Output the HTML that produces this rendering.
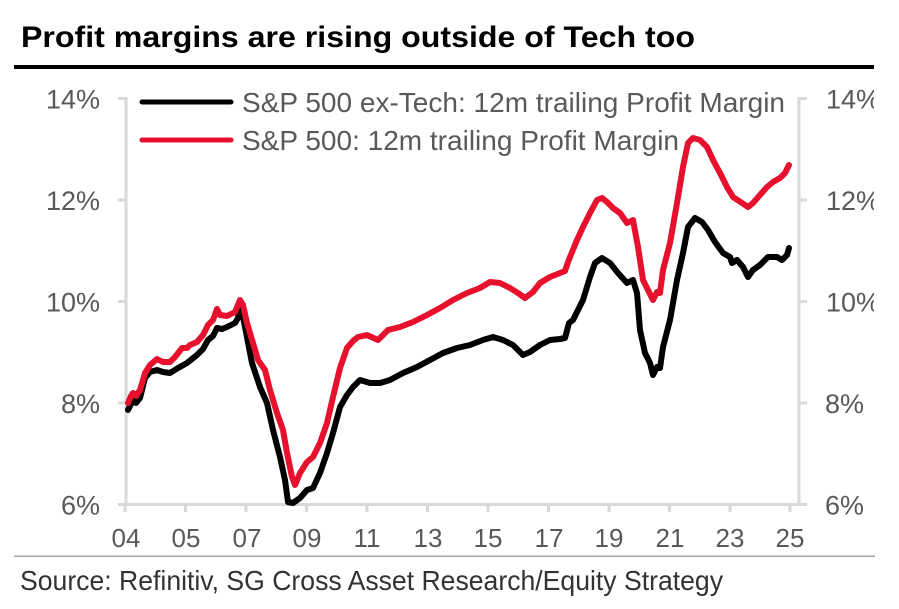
<!DOCTYPE html>
<html>
<head>
<meta charset="utf-8">
<style>
html,body{margin:0;padding:0;background:#fff;}
svg{display:block;}
</style>
</head>
<body>
<svg width="899" height="609" viewBox="0 0 899 609" xmlns="http://www.w3.org/2000/svg">
<rect width="899" height="609" fill="#fff"/>
<!-- Title -->
<text x="21" y="47" font-family="Liberation Sans, Arial, sans-serif" font-weight="bold" font-size="30" fill="#000" textLength="674" lengthAdjust="spacingAndGlyphs">Profit margins are rising outside of Tech too</text>
<rect x="14" y="65" width="861" height="4" fill="#000"/>

<!-- Axes -->
<g stroke="#d9d9d9" stroke-width="3" fill="none">
<line x1="126" y1="97" x2="126" y2="505"/>
<line x1="799" y1="97" x2="799" y2="505"/>
<line x1="118" y1="504.5" x2="807" y2="504.5"/>
<line x1="118" y1="98.5" x2="126" y2="98.5"/>
<line x1="118" y1="200" x2="126" y2="200"/>
<line x1="118" y1="301.5" x2="126" y2="301.5"/>
<line x1="118" y1="403" x2="126" y2="403"/>
<line x1="799" y1="98.5" x2="807" y2="98.5"/>
<line x1="799" y1="200" x2="807" y2="200"/>
<line x1="799" y1="301.5" x2="807" y2="301.5"/>
<line x1="799" y1="403" x2="807" y2="403"/>
<line x1="125" y1="504" x2="125" y2="512"/>
<line x1="185.5" y1="504" x2="185.5" y2="512"/>
<line x1="246" y1="504" x2="246" y2="512"/>
<line x1="306.5" y1="504" x2="306.5" y2="512"/>
<line x1="367" y1="504" x2="367" y2="512"/>
<line x1="427.5" y1="504" x2="427.5" y2="512"/>
<line x1="488" y1="504" x2="488" y2="512"/>
<line x1="548.5" y1="504" x2="548.5" y2="512"/>
<line x1="609" y1="504" x2="609" y2="512"/>
<line x1="669.5" y1="504" x2="669.5" y2="512"/>
<line x1="730" y1="504" x2="730" y2="512"/>
<line x1="790" y1="504" x2="790" y2="512"/>
</g>

<!-- Y labels -->
<g font-family="Liberation Sans, Arial, sans-serif" font-size="27" fill="#595959">
<g text-anchor="end">
<text x="100" y="108.5">14%</text>
<text x="100" y="210">12%</text>
<text x="100" y="311.5">10%</text>
<text x="100" y="413">8%</text>
<text x="100" y="514.5">6%</text>
</g>
<g text-anchor="start">
<text x="826" y="108.5">14%</text>
<text x="826" y="210">12%</text>
<text x="826" y="311.5">10%</text>
<text x="825" y="413">8%</text>
<text x="825" y="514.5">6%</text>
</g>
</g>

<!-- X labels -->
<g font-family="Liberation Sans, Arial, sans-serif" font-size="26" fill="#595959" text-anchor="middle">
<text x="126" y="547">04</text>
<text x="186" y="547">05</text>
<text x="247" y="547">07</text>
<text x="307" y="547">09</text>
<text x="367" y="547">11</text>
<text x="428" y="547">13</text>
<text x="488" y="547">15</text>
<text x="549" y="547">17</text>
<text x="609" y="547">19</text>
<text x="670" y="547">21</text>
<text x="730" y="547">23</text>
<text x="790" y="547">25</text>
</g>

<!-- Series -->
<g fill="none" stroke-width="6" stroke-linejoin="round" stroke-linecap="round">
<polyline stroke="#000" points="128,410 131,404 133,400 136,403 140,398 143,386 145,378 150,372 157,370 163,372 170,373 178,368 187,363 197,355 203,349 208,340 213,336 217,328 222,329 227,327 235,323 238,318 240,305 242,312 245,327 252,363 260,387 267,403 273,430 280,457 285,480 288,502 293,503 300,498 307,490 313,488 320,473 327,453 333,433 340,407 347,395 353,387 360,380 370,383 380,383 390,380 403,373 417,367 430,360 443,353 457,348 470,345 483,340 493,337 503,340 513,345 523,355 530,352 540,345 550,340 560,339 565,338 569,323 573,320 583,300 590,277 595,263 602,258 610,263 618,273 627,283 633,280 637,293 640,330 645,353 650,363 653,375 657,367 660,368 663,347 670,320 677,280 683,253 688,227 695,218 702,222 708,230 715,242 723,253 730,257 732,263 737,260 743,267 748,277 753,270 760,265 768,257 777,257 782,260 787,255 789,248"/>
<polyline stroke="#e8112d" points="128,403 131,396 133,393 136,396 140,390 145,373 150,365 157,359 163,362 170,362 175,357 182,348 187,348 190,345 197,342 203,335 208,325 213,320 217,309 220,315 227,316 235,312 240,300 243,305 247,323 253,343 258,360 265,370 270,390 277,413 283,430 287,453 292,477 295,485 300,473 307,462 313,457 320,443 327,423 333,397 340,368 347,348 353,341 358,337 367,335 378,340 388,330 400,327 413,322 427,315 440,308 453,300 467,293 480,288 490,282 500,283 510,288 518,293 525,298 533,292 540,283 550,277 560,273 565,271 568,262 570,257 577,240 583,227 590,213 597,200 602,198 607,202 613,208 620,213 627,223 633,220 638,247 643,280 648,290 653,300 657,292 660,293 663,270 670,243 677,203 683,167 688,143 693,138 700,140 707,147 713,160 720,173 727,187 733,197 742,203 748,207 753,203 760,195 767,187 773,182 780,178 785,173 789,165"/>
</g>

<!-- Legend -->
<line x1="142" y1="102" x2="231" y2="102" stroke="#000" stroke-width="5" stroke-linecap="round"/>
<line x1="142" y1="140" x2="231" y2="140" stroke="#e8112d" stroke-width="5" stroke-linecap="round"/>
<g font-family="Liberation Sans, Arial, sans-serif" font-size="28" fill="#595959">
<text x="242" y="112" textLength="543" lengthAdjust="spacingAndGlyphs">S&amp;P 500 ex-Tech: 12m trailing Profit Margin</text>
<text x="242" y="150" textLength="437" lengthAdjust="spacingAndGlyphs">S&amp;P 500: 12m trailing Profit Margin</text>
</g>

<!-- right edge clip -->
<rect x="874" y="0" width="25" height="609" fill="#fff"/>

<!-- Bottom rule and source -->
<rect x="14" y="555.5" width="861" height="1.5" fill="#a6a6a6"/>
<text x="20" y="590" font-family="Liberation Sans, Arial, sans-serif" font-size="28" fill="#333" textLength="703" lengthAdjust="spacingAndGlyphs">Source: Refinitiv, SG Cross Asset Research/Equity Strategy</text>
</svg>
</body>
</html>
